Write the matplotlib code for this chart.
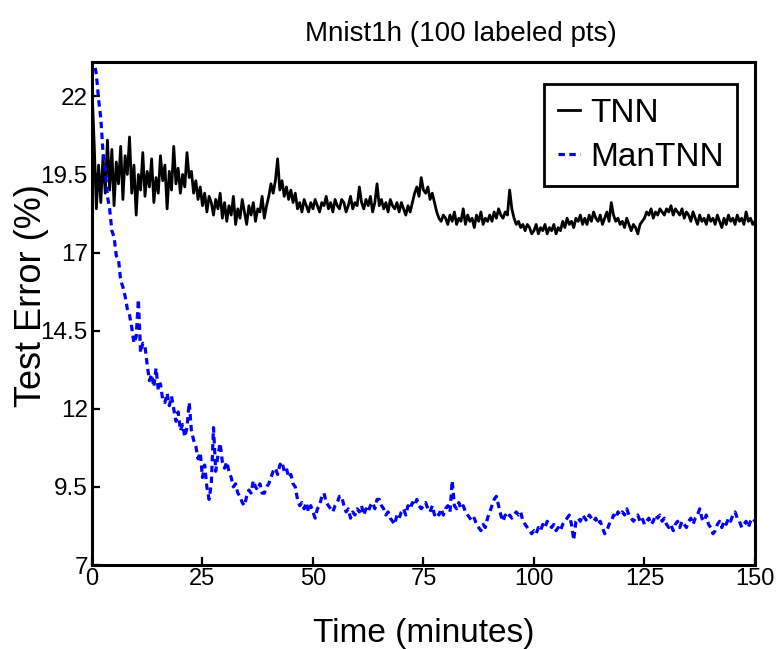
import matplotlib
matplotlib.use("Agg")
import matplotlib.pyplot as plt
import numpy as np

plt.rcParams["font.family"] = ["Liberation Sans", "DejaVu Sans"]

title = "Mnist1h (100 labeled pts)"
x_label = "Time (minutes)"
y_label = "Test Error (%)"
x_ticks = [0, 25, 50, 75, 100, 125, 150]
y_ticks = [7, 9.5, 12, 14.5, 17, 19.5, 22]
y_tick_labels = ["7", "9.5", "12", "14.5", "17", "19.5", "22"]

# sampled every half minute, 0 .. 150
minutes = np.arange(0, 150.5, 0.5)

tnn_error = [
    22.3, 20.5, 18.4, 19.8, 18.6, 20.1, 18.9, 20.6, 19.0, 20.3, 18.5, 19.9, 19.2, 20.4, 18.7, 20.1, 19.5, 20.7, 18.9, 19.8,
    18.2, 19.5, 19.0, 20.2, 18.8, 19.6, 19.1, 20.0, 18.6, 19.4, 18.9, 20.1, 19.3, 19.8, 18.4, 19.6, 19.0, 20.4, 19.2, 19.7,
    18.9, 19.5, 19.1, 20.2, 19.4, 19.6, 18.9, 19.3, 18.7, 19.1, 18.5, 18.9, 18.3, 18.8, 18.6, 18.2, 18.7, 18.4, 18.9, 18.1,
    18.6, 18.0, 18.5, 18.2, 18.8, 17.9, 18.4, 18.1, 18.7, 18.3, 17.9, 18.5, 18.2, 18.6, 18.0, 18.4, 18.3, 18.8, 18.1, 18.5,
    18.8, 19.2, 18.9, 19.3, 20.0, 19.0, 19.3, 18.8, 19.1, 18.7, 19.0, 18.6, 18.9, 18.4, 18.6, 18.3, 18.7, 18.5, 18.3, 18.6,
    18.4, 18.7, 18.5, 18.3, 18.6, 18.5, 18.8, 18.4, 18.6, 18.3, 18.7, 18.5, 18.4, 18.7, 18.6, 18.3, 18.5, 18.8, 18.4, 18.6,
    18.5, 19.1, 18.6, 18.4, 18.7, 18.5, 18.8, 18.3, 18.6, 19.2, 18.5, 18.7, 18.4, 18.6, 18.3, 18.7, 18.5, 18.4, 18.6, 18.3,
    18.6, 18.4, 18.2, 18.5, 18.3, 18.6, 18.9, 19.1, 18.8, 19.4, 19.0, 18.9, 19.1, 18.7, 18.9, 18.6, 18.3, 18.1, 18.0, 18.2,
    18.1, 17.9, 18.2, 18.0, 18.3, 17.9, 18.1, 18.0, 18.4, 17.9, 18.2, 18.0, 18.1, 17.8, 18.2, 18.0, 18.3, 17.9, 18.1, 18.0,
    18.2, 18.0, 18.3, 18.1, 18.4, 18.2, 18.1, 18.3, 18.2, 19.0, 18.4, 18.1, 17.9, 18.0, 17.8, 17.9, 17.7, 17.9, 17.8, 17.6,
    17.7, 17.9, 17.6, 17.8, 17.7, 17.9, 17.6, 17.8, 17.7, 17.9, 17.6, 17.8, 17.7, 18.0, 17.8, 18.1, 17.9, 18.0, 17.8, 18.1,
    18.0, 18.2, 17.9, 18.1, 17.9, 18.2, 18.0, 18.3, 18.1, 18.0, 18.2, 17.9, 18.1, 18.3, 18.0, 18.6, 18.2, 18.0, 18.1, 17.9,
    18.0, 17.8, 18.1, 17.9, 17.7, 17.9, 17.8, 17.6, 17.9, 18.0, 18.1, 18.3, 18.2, 18.4, 18.1, 18.3, 18.2, 18.4, 18.3, 18.2,
    18.4, 18.3, 18.5, 18.2, 18.4, 18.3, 18.2, 18.4, 18.1, 18.3, 18.2, 18.0, 18.3, 18.1, 17.9, 18.2, 18.0, 18.1, 17.9, 18.2,
    18.0, 18.1, 17.9, 18.2, 18.0, 17.8, 18.1, 17.9, 18.2, 18.0, 18.1, 17.9, 18.2, 18.0, 18.1, 17.9, 18.3, 18.0, 18.1, 17.9,
    18.0,
]

mantnn_error = [
    23.6, 23.1, 22.7, 21.9, 21.3, 20.2, 19.7, 18.8, 18.4, 17.7, 17.5, 16.9, 16.8, 16.1, 15.9, 15.6, 15.2, 15.0, 14.6, 14.1,
    14.3, 15.5, 13.8, 14.1, 14.0, 13.4, 12.9, 13.1, 12.7, 13.3, 12.6, 12.8, 12.3, 12.2, 12.5, 12.1, 12.4, 12.0, 11.6, 11.9,
    11.3, 11.5, 11.1, 11.4, 12.2, 11.3, 11.0, 10.8, 10.4, 10.6, 9.8, 10.2, 9.5, 9.1, 9.6, 11.4, 10.0, 10.5, 10.9, 10.3,
    10.1, 10.3, 10.0, 9.8, 9.5, 9.6, 9.3, 9.2, 9.0, 8.9, 9.2, 9.4, 9.3, 9.7, 9.5, 9.4, 9.6, 9.3, 9.3, 9.5,
    9.6, 9.8, 10.0, 10.1, 9.9, 10.2, 10.3, 10.0, 10.1, 9.8, 9.9, 9.6, 9.5, 9.1, 8.9, 9.0, 8.8, 9.0, 8.7, 8.9,
    8.7, 8.5, 8.8, 8.9, 9.2, 9.3, 9.0, 8.9, 8.8, 8.7, 8.9, 9.0, 9.2, 9.2, 8.9, 8.7, 8.8, 8.5, 8.7, 8.6,
    8.8, 8.7, 8.9, 8.6, 8.8, 8.7, 8.9, 9.0, 8.8, 9.1, 9.1, 8.9, 8.8, 8.6, 8.7, 8.5, 8.4, 8.3, 8.6, 8.5,
    8.7, 8.8, 8.6, 8.9, 8.8, 9.0, 8.9, 9.1, 8.9, 8.8, 8.9, 9.0, 8.8, 8.7, 8.9, 8.6, 8.7, 8.6, 8.8, 8.6,
    8.8, 8.9, 8.7, 9.7, 8.9, 8.8, 9.0, 8.8, 8.9, 8.7, 8.6, 8.5, 8.4, 8.5, 8.3, 8.2, 8.1, 8.3, 8.2, 8.5,
    8.7, 8.9, 9.1, 9.2, 8.9, 8.6, 8.4, 8.6, 8.5, 8.6, 8.5, 8.6, 8.7, 8.6, 8.7, 8.4, 8.3, 8.2, 8.1, 8.0,
    8.1, 8.0, 8.2, 8.1, 8.3, 8.2, 8.4, 8.3, 8.2, 8.3, 8.1, 8.2, 8.1, 8.3, 8.4, 8.5, 8.6, 8.3, 7.8, 8.4,
    8.5, 8.4, 8.6, 8.5, 8.4, 8.6, 8.5, 8.4, 8.5, 8.3, 8.4, 8.2, 8.0, 8.1, 8.3, 8.4, 8.6, 8.5, 8.7, 8.6,
    8.7, 8.6, 8.8, 8.6, 8.5, 8.4, 8.5, 8.6, 8.4, 8.5, 8.3, 8.4, 8.5, 8.3, 8.4, 8.6, 8.5, 8.6, 8.4, 8.5,
    8.3, 8.2, 8.3, 8.1, 8.3, 8.4, 8.2, 8.4, 8.3, 8.2, 8.4, 8.5, 8.3, 8.5, 8.6, 8.8, 8.5, 8.4, 8.6, 8.3,
    8.2, 8.0, 8.1, 8.3, 8.4, 8.2, 8.4, 8.3, 8.5, 8.4, 8.6, 8.7, 8.5, 8.4, 8.2, 8.3, 8.4, 8.2, 8.4, 8.5,
    8.4,
]

fig = plt.figure(figsize=(7.82, 6.49), dpi=100)
ax = fig.add_axes([0.1176, 0.1294, 0.8478, 0.7751])

ax.plot(minutes, tnn_error, color="black", linewidth=2.0, label="TNN")
ax.plot(minutes, mantnn_error, color="#0000ff", linewidth=2.3,
        linestyle=(0, (2.0, 1.4)), label="ManTNN")

ax.set_xlim(0, 150)
ax.set_ylim(7, 23.1)
ax.set_xticks(x_ticks)
ax.set_yticks(y_ticks)
ax.set_yticklabels(y_tick_labels)

for side in ["left", "right", "top", "bottom"]:
    ax.spines[side].set_linewidth(2.2)
ax.tick_params(axis="both", direction="in", length=6, width=1.6)
ax.tick_params(axis="x", pad=2, labelsize=17)
ax.tick_params(axis="y", pad=3, labelsize=17.5)

ax.set_title(title, fontsize=20, pad=15, x=0.557)
ax.set_xlabel(x_label, fontsize=24, labelpad=20)
ax.set_ylabel(y_label, fontsize=26)
ax.yaxis.set_label_coords(-0.065, 0.535)

leg = ax.legend(loc="upper right", bbox_to_anchor=(0.973, 0.956), fontsize=24,
                handlelength=0.65, handletextpad=0.3, borderpad=0.41,
                labelspacing=0.39, fancybox=False, framealpha=1, borderaxespad=0)
leg.get_frame().set_edgecolor("black")
leg.get_frame().set_linewidth(2.0)

fig.savefig("out.png", dpi=100)
